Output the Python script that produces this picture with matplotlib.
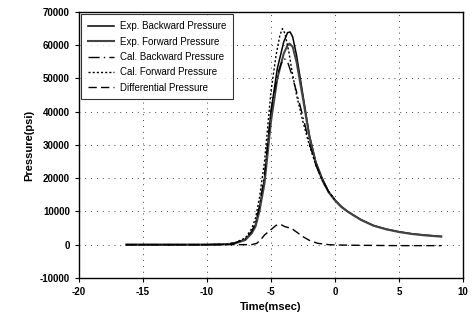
import matplotlib
matplotlib.use("Agg")
import matplotlib.pyplot as plt
import numpy as np

plt.rcParams['font.family'] = ['Liberation Sans', 'DejaVu Sans']
plt.rcParams['axes.unicode_minus'] = False

# time (msec) and pressures (psi)
t_exp_b = [-16.3, -10, -8.5, -7.8, -7.0, -6.5, -6.2, -5.9, -5.5, -5.0, -4.5, -4.0, -3.7,
           -3.5, -3.3, -3.0, -2.5, -2.0, -1.5, -1.0, -0.5, 0, 0.5, 1, 2, 3, 4, 5, 6, 7, 8.3]
p_exp_b = [0, 0, 100, 500, 1600, 3800, 6000, 11000, 20000, 40000, 53000, 61000, 63800,
           64000, 62500, 57000, 45000, 33000, 25000, 20000, 16000, 13500, 11500, 10000,
           7600, 5800, 4700, 3900, 3300, 2900, 2500]

t_exp_f = [-16.3, -10, -8.5, -7.8, -7.0, -6.5, -6.2, -5.9, -5.5, -5.0, -4.5, -4.0, -3.7,
           -3.55, -3.3, -3.0, -2.5, -2.0, -1.5, -1.0, -0.5, 0, 0.5, 1, 2, 3, 4, 5, 6, 7, 8.3]
p_exp_f = [0, 0, 100, 400, 1400, 3400, 5500, 10000, 18500, 37000, 50000, 57500, 60000,
           60500, 59500, 55000, 44000, 32500, 24500, 19500, 15800, 13300, 11300, 9900,
           7500, 5700, 4600, 3800, 3200, 2800, 2400]

t_cal_b = [-16.3, -10, -8.5, -7.8, -7.0, -6.5, -6.2, -5.9, -5.5, -5.0, -4.5, -4.2, -3.95,
           -3.7, -3.4, -3.0, -2.5, -2.0, -1.5, -1.0, -0.5, 0]
p_cal_b = [0, 0, 100, 500, 1700, 4000, 6500, 11500, 21000, 40000, 51000, 54500, 56000,
           55000, 51500, 46000, 38500, 30500, 24000, 19500, 16000, 13500]

t_cal_f = [-16.3, -10, -8.5, -7.8, -7.0, -6.5, -6.2, -5.9, -5.5, -5.0, -4.6, -4.3, -4.1,
           -3.9, -3.6, -3.3, -3.0, -2.5, -2.0, -1.5, -1.0, -0.5, 0]
p_cal_f = [0, 0, 100, 600, 2000, 4800, 8000, 14000, 25000, 46000, 57000, 63000, 65000,
           63500, 58000, 51000, 45000, 37000, 30000, 24000, 19500, 16000, 13500]

t_diff = [-16.3, -8, -6.5, -6.1, -5.8, -5.5, -5.0, -4.6, -4.25, -3.9, -3.4, -3.0, -2.5,
          -2.0, -1.35, -0.5, 0, 2, 5, 8.3]
p_diff = [0, 0, 0, 400, 1500, 2900, 4500, 5800, 6100, 5400, 4900, 3800, 2400, 1300, 400,
          0, -100, -200, -300, -300]

fig = plt.figure(figsize=(4.72, 3.25), dpi=100)
ax = fig.add_axes([0.167, 0.145, 0.814, 0.818])

ax.plot(t_exp_b, p_exp_b, color='black', lw=1.1, label='Exp. Backward Pressure')
ax.plot(t_exp_f, p_exp_f, color='#444444', lw=1.5, label='Exp. Forward Pressure')
ax.plot(t_cal_b, p_cal_b, color='black', lw=1.0, ls=(0, (8, 3, 1, 3)), label='Cal. Backward Pressure')
ax.plot(t_cal_f, p_cal_f, color='black', lw=1.0, ls=(0, (1.5, 1.5)), label='Cal. Forward Pressure')
ax.plot(t_diff, p_diff, color='black', lw=1.0, ls=(0, (6, 3)), label='Differential Pressure')

ax.set_xlim(-20, 10)
ax.set_ylim(-10000, 70000)
ax.set_xticks(np.arange(-20, 11, 5))
ax.set_yticks(np.arange(-10000, 70001, 10000))
ax.grid(True, color='black', lw=0.6, ls=(0, (1, 6)))
ax.tick_params(direction='out', length=3, width=0.8, labelsize=7)
for lab in ax.get_xticklabels() + ax.get_yticklabels():
    lab.set_fontweight('bold')
for s in ax.spines.values():
    s.set_linewidth(1.0)

ax.set_xlabel('Time(msec)', fontsize=8, fontweight='bold')
ax.set_ylabel('Pressure(psi)', fontsize=8, fontweight='bold')

leg = ax.legend(loc='upper left', fontsize=7, frameon=True, fancybox=False,
                edgecolor='black', handlelength=2.7, labelspacing=0.55,
                borderaxespad=0.25, borderpad=0.7, handletextpad=0.6)
leg.get_frame().set_linewidth(0.8)

fig.savefig('out.png', dpi=100)
